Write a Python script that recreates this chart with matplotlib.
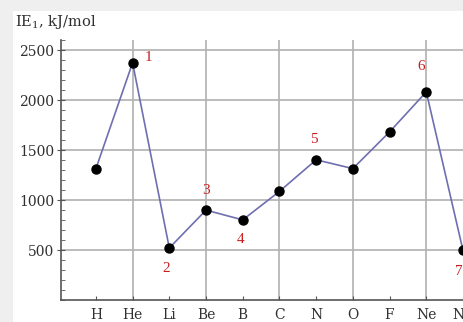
import matplotlib
matplotlib.use("Agg")
import matplotlib.pyplot as plt
from matplotlib.patches import Rectangle
from matplotlib.ticker import MultipleLocator

# first ionisation energy, kJ/mol
elements = ["H", "He", "Li", "Be", "B", "C", "N", "O", "F", "Ne", "Na"]
ie1 = [1312, 2372, 520, 899, 801, 1086, 1402, 1314, 1681, 2081, 496]

# numbered call-outs: element index and label
callout_idx = [1, 2, 3, 4, 6, 9, 10]
callout_lab = ["1", "2", "3", "4", "5", "6", "7"]
# label offsets from the point, in pixels
callout_off = [(16, 5), (-3, -20), (0, 20), (-2, -20), (-2, 20), (-5, 25), (-4, -21)]

serif = "DejaVu Serif"
text_col = "#303030"

fig = plt.figure(figsize=(4.63, 3.22), dpi=100)
fig.patch.set_facecolor("#efefef")
fig.patches.append(Rectangle((13 / 463, 0), 1, 1 - 11 / 322, transform=fig.transFigure,
                             facecolor="white", edgecolor="none", zorder=-10))

ax = fig.add_axes([61 / 463, 22 / 322, 1 - 61 / 463, 260 / 322])
ax.patch.set_alpha(0)

x = list(range(len(elements)))
ax.plot(x, ie1, color="#6f6fb0", lw=1.2, zorder=3)
ax.plot(x, ie1, "o", color="black", ms=6.5, zorder=4)

for i, lab, off in zip(callout_idx, callout_lab, callout_off):
    ax.annotate(lab, (i, ie1[i]), xytext=off, textcoords="offset pixels",
                ha="center", va="center", color="#c81e1e", fontsize=11,
                family="Liberation Serif", annotation_clip=False)

ax.set_xlim(-0.95, 10)
ax.set_ylim(0, 2600)

ax.set_xticks(x)
ax.set_xticklabels(elements, family=serif, fontsize=10, color=text_col)
ax.set_yticks([500, 1000, 1500, 2000, 2500])
ax.set_yticklabels(["500", "1000", "1500", "2000", "2500"], family=serif, fontsize=10,
                   color=text_col)
ax.yaxis.set_minor_locator(MultipleLocator(100))

ax.tick_params(axis="x", direction="in", length=3, color="#555555", pad=6)
ax.tick_params(axis="y", which="major", direction="inout", length=6, color="#555555", pad=2)
ax.tick_params(axis="y", which="minor", direction="in", length=3, color="#555555")

# horizontal grid on every major y tick, vertical grid on every other element
for v in [500, 1000, 1500, 2000, 2500]:
    ax.axhline(v, color="#b0b0b0", lw=1.2, zorder=1)
for i in [1, 3, 5, 7, 9]:
    ax.axvline(i, color="#b0b0b0", lw=1.2, zorder=1)

for s in ["top", "right"]:
    ax.spines[s].set_visible(False)
for s in ["left", "bottom"]:
    ax.spines[s].set_color("#555555")
    ax.spines[s].set_linewidth(1.2)

fig.text(15 / 463, 1 - 22 / 322, "IE$_1$, kJ/mol", family=serif, fontsize=10.5,
         color=text_col, ha="left", va="center", math_fontfamily="dejavuserif")

fig.savefig("out.png", dpi=100, facecolor=fig.get_facecolor())
